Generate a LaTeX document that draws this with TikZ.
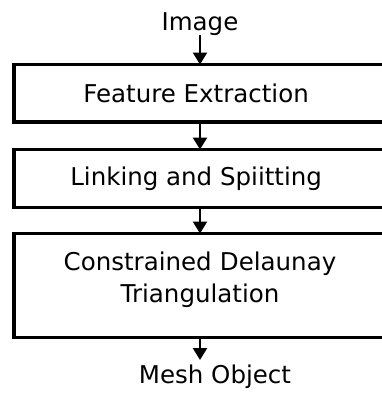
\documentclass[tikz,border=0pt]{standalone}
\usepackage{fontspec}
\setmainfont{DejaVu Sans}
\usepackage{tikz}
\usetikzlibrary{arrows.meta}
\usetikzlibrary{matrix}
\tikzstyle{stage}=[rectangle, draw, line width=3.6pt, minimum width=372pt, inner sep=0pt, align=center]
\tikzstyle{io}=[inner sep=0pt, text height=17pt, text depth=5pt]

\begin{document}
\begin{tikzpicture}

\tikzset{>={Triangle[width=14pt, length=12pt]}}
\tikzset{every node/.style={font=\fontsize{24.5pt}{32pt}\selectfont}}

\useasboundingbox (0,0) rectangle (382pt,-400pt);

% Pipeline matrix
\matrix (flow) [
    matrix of nodes,
    inner sep=0pt,
    outer sep=0pt,
    row sep=24pt,
] at (200pt,-200.5pt)
{
    |[io]| Image \\[3.7pt]
    |[stage, minimum height=57.5pt]| Feature Extraction \\[-0.1pt]
    |[stage, minimum height=58pt]| Linking and Spiitting \\[-1.6pt]
    |[stage, text width=300pt, minimum height=104pt]| Constrained Delaunay\par Triangulation\rule[-16pt]{0pt}{0pt} \\[-3.3pt]
    |[io, text height=23pt, xshift=15pt]| Mesh Object \\
};

\draw[->, line width=2.5pt] (flow-1-1) -- (flow-2-1); % image -> features
\draw[->, line width=2.5pt] (flow-2-1) -- (flow-3-1); % features -> linking
\draw[->, line width=2.5pt] (flow-3-1) -- (flow-4-1); % linking -> delaunay
\draw[->, line width=2.5pt] (flow-4-1.south) -- (flow-4-1.south |- flow-5-1.north); % delaunay -> mesh

\end{tikzpicture}
\end{document}
